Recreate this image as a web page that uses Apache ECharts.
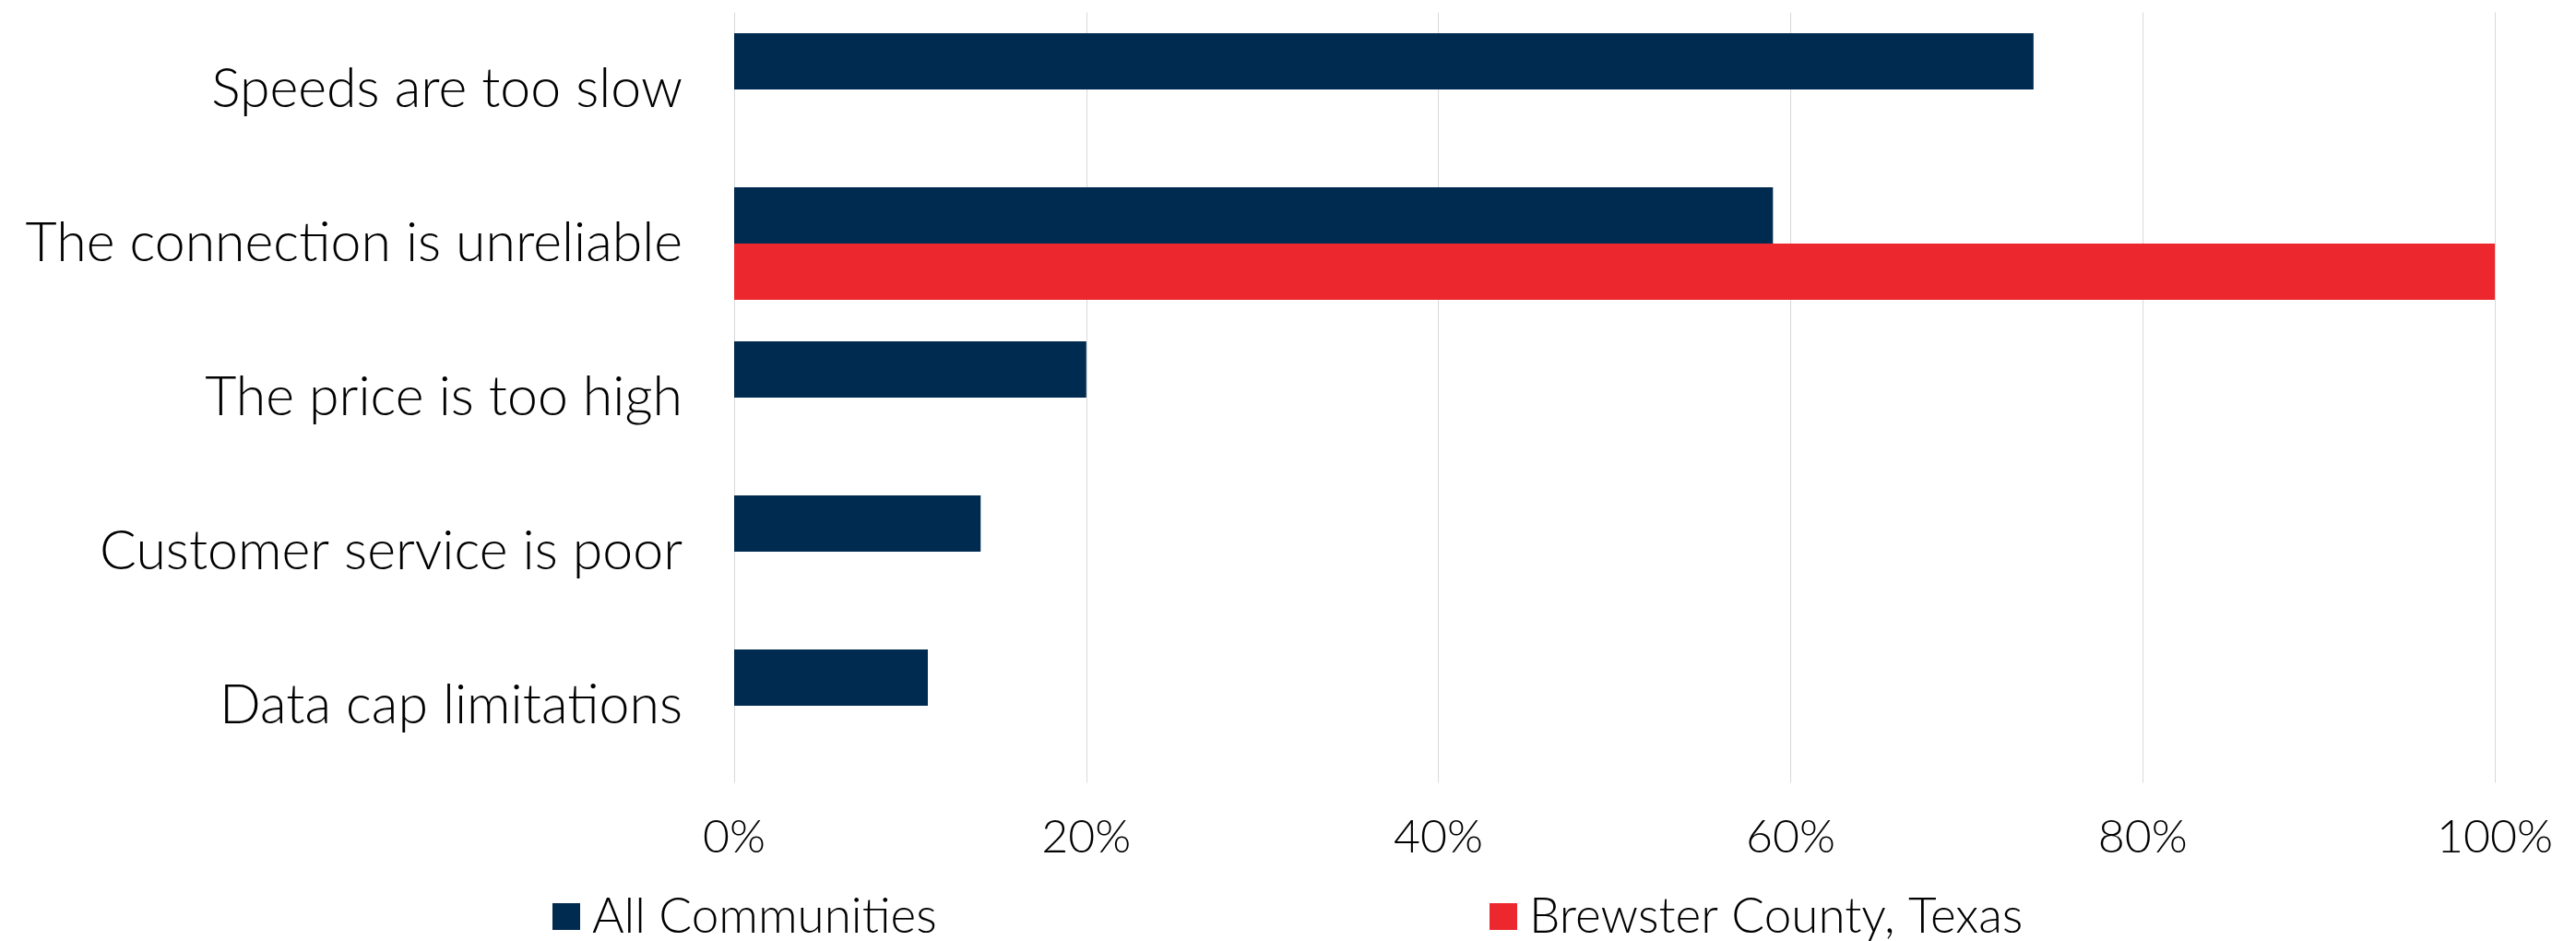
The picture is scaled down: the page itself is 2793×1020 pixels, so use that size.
<!DOCTYPE html>
<html>
<head>
<meta charset="utf-8">
<script src="https://cdn.jsdelivr.net/npm/echarts@6/dist/echarts.min.js"></script>
<style>
html,body{margin:0;padding:0;background:#fff;}
#chart{width:2793px;height:1020px;}
</style>
</head>
<body>
<div id="chart"></div>
<script>
var categories = ["Speeds are too slow", "The connection is unreliable", "The price is too high", "Customer service is poor", "Data cap limitations"];
var seriesNames = ["All Communities", "Brewster County, Texas"];
var allCommunities = [0.738, 0.59, 0.20, 0.14, 0.11];
var brewster = ['-', 1.00, '-', '-', '-'];
var xTicks = [0, 0.2, 0.4, 0.6, 0.8, 1.0];

var navy = '#002b50';
var red = '#ec272d';
var font = 'Lato';

var chart = echarts.init(document.getElementById('chart'), null, {renderer: 'canvas'});
var legendText = {fontFamily: font, fontSize: 53, fontWeight: 300, color: '#000', padding: [0, 0, 0, 8]};
chart.setOption({
  backgroundColor: '#ffffff',
  animation: false,
  grid: {left: 796, right: 88, top: 13.5, bottom: 171.5, containLabel: false},
  legend: [
    {
      data: [seriesNames[0]], left: 594, top: 962, itemWidth: 30, itemHeight: 29, itemGap: 13,
      icon: 'rect', textStyle: legendText
    },
    {
      data: [seriesNames[1]], left: 1610, top: 962, itemWidth: 30, itemHeight: 29, itemGap: 13,
      icon: 'rect', textStyle: legendText
    }
  ],
  xAxis: {
    type: 'value', min: xTicks[0], max: xTicks[xTicks.length - 1], interval: 0.2,
    axisLine: {show: false}, axisTick: {show: false},
    splitLine: {show: true, lineStyle: {color: '#d9d9d9', width: 1}},
    axisLabel: {
      margin: 34, fontFamily: font, fontSize: 50, fontWeight: 300, color: '#000',
      formatter: function (v) { return Math.round(v * 100) + '%'; }
    }
  },
  yAxis: {
    type: 'category', data: categories, inverse: true,
    axisLine: {show: false}, axisTick: {show: false}, splitLine: {show: false},
    axisLabel: {margin: 56, fontFamily: font, fontSize: 59, fontWeight: 300, color: '#000'}
  },
  series: [
    {name: seriesNames[0], type: 'bar', data: allCommunities, itemStyle: {color: navy},
     barGap: '0%', barCategoryGap: '27%'},
    {name: seriesNames[1], type: 'bar', data: brewster, itemStyle: {color: red},
     barGap: '0%', barCategoryGap: '27%'}
  ]
});
</script>
</body>
</html>
